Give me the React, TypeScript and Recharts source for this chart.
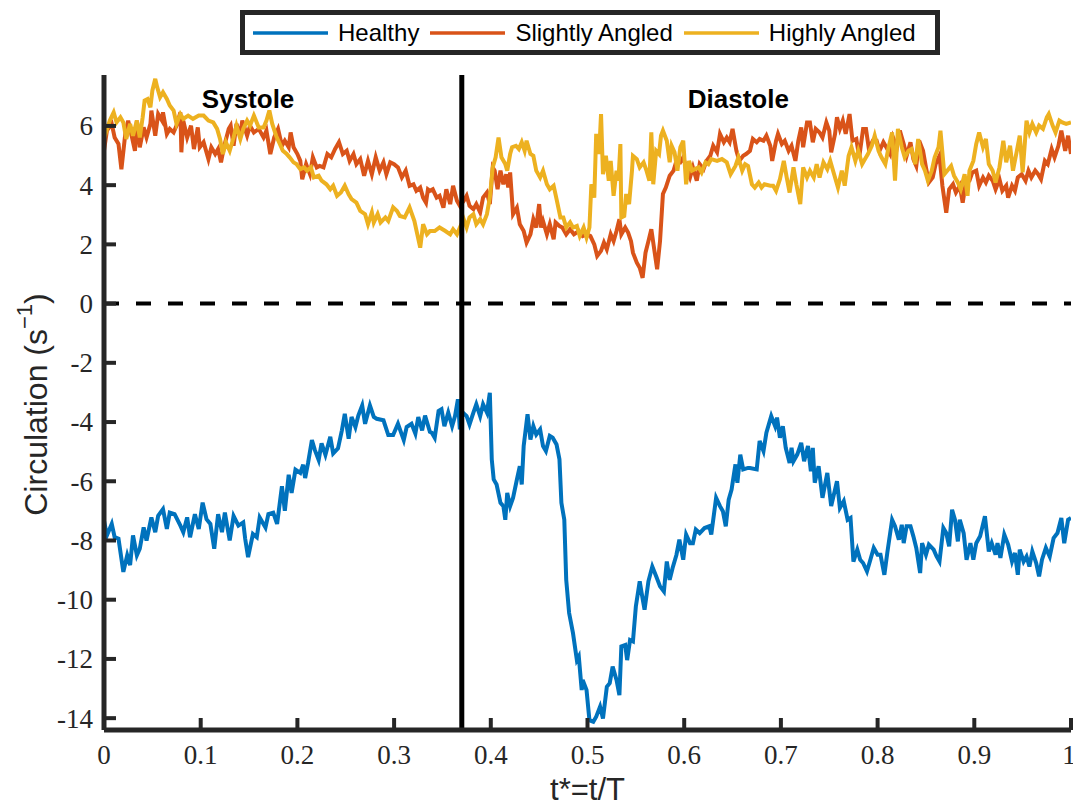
import React from 'react';
import { LineChart, Line, XAxis, YAxis, ReferenceLine, ReferenceDot, Legend } from 'recharts';

// [t*, circulation] samples
const healthy: [number, number][] = [
  [0,-7.33],[0.003,-7.83],[0.008,-7.44],[0.011,-7.89],[0.015,-7.94],[0.020,-9.06],[0.024,-8.50],[0.027,-8.83],[0.030,-7.83],[0.034,-8.50],[0.037,-8.28],[0.041,-7.56],[0.044,-8.00],[0.049,-7.22],[0.053,-7.72],[0.056,-7.17],[0.061,-6.94],[0.065,-7.61],[0.068,-7.06],[0.073,-7.11],[0.079,-7.50],[0.082,-7.72],[0.086,-7.22],[0.089,-7.89],[0.094,-7.11],[0.098,-7.61],[0.102,-6.72],[0.106,-7.28],[0.110,-7.44],[0.114,-8.28],[0.118,-7.11],[0.122,-7.72],[0.125,-7.06],[0.130,-8.00],[0.134,-7.17],[0.139,-7.50],[0.144,-7.39],[0.146,-7.94],[0.149,-8.56],[0.154,-7.78],[0.158,-7.89],[0.161,-7.22],[0.167,-7.56],[0.170,-7.11],[0.175,-7.06],[0.179,-7.44],[0.184,-6.17],[0.187,-7.00],[0.191,-5.78],[0.194,-6.39],[0.198,-5.61],[0.203,-5.72],[0.206,-5.44],[0.208,-5.89],[0.211,-5.39],[0.215,-4.61],[0.218,-4.94],[0.222,-5.28],[0.225,-4.72],[0.229,-5.11],[0.234,-4.50],[0.237,-5.06],[0.242,-4.89],[0.246,-4.28],[0.249,-3.72],[0.253,-4.56],[0.256,-3.83],[0.260,-4.17],[0.263,-3.78],[0.267,-3.44],[0.270,-4.06],[0.275,-3.44],[0.279,-3.83],[0.282,-3.89],[0.289,-3.94],[0.294,-4.44],[0.299,-4.44],[0.304,-4.06],[0.310,-4.61],[0.313,-4.17],[0.318,-4.06],[0.322,-4.39],[0.325,-3.83],[0.329,-4.28],[0.332,-3.78],[0.337,-4.33],
  [0.339,-4.36],[0.342,-4.53],[0.346,-3.63],[0.349,-3.57],[0.352,-4.14],[0.356,-3.68],[0.360,-4.14],[0.363,-3.80],[0.366,-3.23],[0.368,-4.25],[0.371,-3.68],[0.375,-3.80],[0.378,-4.08],[0.382,-3.68],[0.385,-3.40],[0.389,-3.80],[0.392,-3.40],[0.396,-3.68],[0.399,-3.01],[0.401,-5.26],[0.403,-5.94],[0.406,-6.11],[0.410,-6.73],[0.413,-6.84],[0.415,-7.30],[0.417,-6.39],[0.420,-6.84],[0.423,-6.56],[0.427,-5.94],[0.430,-5.49],[0.432,-6.11],[0.434,-4.81],[0.438,-3.74],[0.441,-4.59],[0.444,-4.14],[0.447,-4.42],[0.451,-4.25],[0.454,-4.81],[0.457,-4.98],[0.461,-4.47],[0.464,-4.53],[0.468,-4.76],[0.471,-5.26],[0.473,-6.73],[0.476,-7.30],[0.478,-9.33],[0.481,-10.45],[0.485,-11.13],[0.489,-12.04],[0.491,-11.92],[0.494,-13.05],[0.495,-12.71],[0.499,-13.05],[0.502,-14.07],[0.506,-14.12],[0.509,-13.95],[0.513,-13.61],[0.516,-14.01],[0.520,-12.94],[0.523,-12.82],[0.526,-12.26],[0.530,-12.71],[0.533,-13.22],[0.535,-11.58],[0.539,-11.53],[0.541,-12.04],[0.544,-11.36],[0.547,-11.41],[0.550,-10.23],[0.554,-9.38],[0.556,-9.78],[0.559,-10.34],[0.563,-9.38],[0.567,-8.88],[0.571,-9.21],[0.575,-9.55],[0.579,-9.72],[0.582,-8.71],[0.585,-9.33],[0.588,-8.93],[0.592,-8.48],[0.595,-7.97],[0.599,-8.65],[0.602,-7.80],[0.606,-8.09],[0.609,-8.09],[0.612,-7.63],[0.616,-7.75],[0.621,-7.58],[0.626,-7.52],[0.628,-7.80],[0.633,-6.56],[0.637,-6.84],[0.640,-7.01],[0.643,-7.52],[0.646,-6.62],[0.649,-6.28],[0.653,-5.43],[0.655,-6.05],[0.658,-5.10],
  [0.661,-5.60],[0.666,-5.55],[0.668,-5.55],[0.675,-5.60],[0.678,-4.64],[0.682,-4.98],[0.685,-4.36],[0.690,-3.80],[0.694,-4.14],[0.696,-3.85],[0.699,-4.53],[0.702,-4.14],[0.705,-4.87],[0.709,-5.38],[0.711,-4.87],[0.713,-5.32],[0.717,-5.09],[0.721,-4.70],[0.724,-5.32],[0.728,-4.81],[0.731,-5.66],[0.733,-4.87],[0.735,-6.05],[0.739,-5.49],[0.743,-6.56],[0.748,-5.72],[0.752,-6.84],[0.758,-6.00],[0.761,-6.90],[0.765,-6.67],[0.769,-7.30],[0.772,-7.24],[0.775,-8.71],[0.779,-8.31],[0.782,-8.65],[0.785,-8.76],[0.789,-9.04],[0.792,-8.71],[0.796,-8.25],[0.800,-8.48],[0.803,-8.48],[0.807,-9.16],[0.810,-8.42],[0.815,-7.30],[0.818,-7.52],[0.822,-7.97],[0.825,-7.47],[0.827,-8.09],[0.830,-7.52],[0.834,-7.52],[0.837,-7.86],[0.840,-8.25],[0.844,-9.10],[0.846,-8.09],[0.850,-8.48],[0.853,-8.14],[0.858,-8.31],[0.861,-8.54],[0.864,-8.71],[0.868,-7.58],[0.871,-7.75],[0.874,-8.20],[0.877,-6.96],[0.880,-7.30],[0.883,-8.03],[0.885,-7.30],[0.889,-7.75],[0.892,-8.65],[0.896,-8.09],[0.899,-8.65],[0.902,-8.09],[0.906,-7.86],[0.911,-7.18],[0.915,-8.37],[0.918,-8.09],[0.922,-8.48],[0.924,-8.09],[0.927,-8.59],[0.931,-7.80],[0.935,-8.14],[0.939,-8.71],[0.942,-8.42],[0.945,-9.16],[0.947,-8.31],[0.951,-8.71],[0.954,-8.54],[0.957,-8.88],[0.960,-8.37],[0.964,-8.76],[0.967,-9.21],[0.970,-8.65],[0.974,-8.25],[0.978,-8.54],[0.982,-7.92],[0.986,-7.75],[0.990,-7.24],[0.993,-8.09],[0.997,-7.30],[1.000,-7.24],
];

const slightlyAngled: [number, number][] = [
  [0,5.16],[0.003,5.84],[0.008,6.07],[0.011,5.61],[0.015,5.39],[0.018,4.54],[0.022,5.73],[0.025,6.18],[0.029,5.61],[0.032,5.16],[0.034,6.18],[0.037,5.28],[0.041,5.95],[0.044,5.61],[0.048,6.07],[0.049,6.52],[0.053,5.67],[0.056,6.40],[0.060,6.18],[0.061,6.46],[0.065,5.73],[0.068,5.90],[0.072,5.78],[0.075,6.01],[0.079,6.46],[0.080,5.11],[0.082,6.18],[0.086,5.61],[0.090,6.01],[0.093,5.22],[0.097,5.95],[0.099,5.28],[0.103,5.45],[0.108,4.88],[0.111,5.28],[0.115,5.05],[0.118,5.22],[0.121,4.77],[0.124,5.28],[0.129,5.90],[0.131,6.01],[0.134,5.33],[0.137,6.07],[0.141,5.67],[0.143,6.18],[0.148,5.67],[0.151,6.01],[0.155,5.78],[0.160,5.90],[0.165,5.61],[0.168,5.84],[0.172,5.05],[0.176,5.61],[0.180,5.90],[0.184,5.33],[0.187,5.50],[0.191,5.28],[0.193,5.78],[0.196,5.28],[0.200,5.05],[0.203,4.82],[0.205,4.20],[0.209,4.71],[0.213,4.37],[0.216,4.94],[0.220,4.60],[0.223,4.65],[0.227,4.60],[0.231,5.05],[0.235,4.94],[0.239,5.22],[0.243,5.45],[0.247,5.05],[0.251,5.16],[0.254,4.82],[0.258,5.05],[0.261,4.71],[0.265,4.88],[0.269,4.32],[0.273,4.82],[0.277,4.37],[0.281,4.94],[0.285,4.49],[0.289,4.77],[0.292,4.37],[0.296,4.77],[0.300,4.71],[0.304,4.60],[0.308,4.26],[0.312,4.49],[0.316,3.98],[0.320,4.03],[0.323,3.81],[0.327,3.92],[0.330,3.58],[0.333,3.41],[0.335,3.86],[0.337,3.81],
  [0.340,3.86],[0.344,3.58],[0.347,3.64],[0.351,3.24],[0.354,3.86],[0.358,3.36],[0.361,3.98],[0.365,3.47],[0.368,3.30],[0.372,3.47],[0.375,3.64],[0.378,3.30],[0.382,3.19],[0.385,3.36],[0.389,3.08],[0.392,3.58],[0.396,3.75],[0.399,3.36],[0.402,4.60],[0.404,4.49],[0.407,3.86],[0.410,4.49],[0.413,4.03],[0.416,4.37],[0.418,3.92],[0.420,4.43],[0.423,3.02],[0.427,3.24],[0.430,2.68],[0.434,2.45],[0.437,2.06],[0.441,2.34],[0.444,2.85],[0.447,2.57],[0.450,3.36],[0.452,2.57],[0.454,2.79],[0.458,2.34],[0.461,2.68],[0.465,2.17],[0.467,2.74],[0.471,2.62],[0.474,2.57],[0.478,2.34],[0.482,2.51],[0.486,2.34],[0.491,2.45],[0.495,2.28],[0.499,2.34],[0.503,2.28],[0.507,2.00],[0.510,1.61],[0.514,1.78],[0.517,2.06],[0.520,1.83],[0.524,2.34],[0.527,2.11],[0.530,2.45],[0.533,2.85],[0.535,2.34],[0.539,2.57],[0.542,2.40],[0.545,2.11],[0.547,1.72],[0.551,1.38],[0.554,1.21],[0.557,0.87],[0.560,1.72],[0.563,2.11],[0.566,2.51],[0.570,1.61],[0.572,1.16],[0.575,2.11],[0.578,3.70],[0.581,3.92],[0.585,4.32],[0.589,4.49],[0.592,4.82],[0.596,4.77],[0.599,4.94],[0.602,4.60],[0.606,4.26],[0.609,4.60],[0.613,4.15],[0.616,4.71],[0.620,4.54],[0.623,4.82],[0.627,4.99],[0.630,5.33],[0.634,5.11],[0.637,5.73],[0.641,5.45],[0.644,5.61],[0.647,5.45],[0.650,5.90],[0.654,5.16],[0.657,4.82],
  [0.661,4.99],[0.664,5.05],[0.668,5.16],[0.671,5.56],[0.675,5.45],[0.678,5.56],[0.682,5.50],[0.685,5.67],[0.689,5.33],[0.691,4.82],[0.695,5.50],[0.697,5.73],[0.701,5.39],[0.704,5.50],[0.708,5.16],[0.711,5.33],[0.715,4.82],[0.718,5.50],[0.721,5.95],[0.723,5.28],[0.727,6.12],[0.730,6.12],[0.733,5.45],[0.736,5.90],[0.740,5.78],[0.743,5.61],[0.747,6.12],[0.750,5.84],[0.752,5.11],[0.756,5.73],[0.758,6.29],[0.761,5.90],[0.764,6.18],[0.767,5.73],[0.771,6.40],[0.774,5.50],[0.778,5.56],[0.781,4.94],[0.785,5.90],[0.788,5.90],[0.791,5.22],[0.795,5.50],[0.799,5.50],[0.802,5.16],[0.806,5.45],[0.809,5.28],[0.813,5.05],[0.816,5.61],[0.820,5.28],[0.823,5.84],[0.827,5.39],[0.830,4.99],[0.834,5.45],[0.837,4.88],[0.840,4.65],[0.843,5.50],[0.847,5.16],[0.850,4.60],[0.853,4.09],[0.857,4.26],[0.860,4.71],[0.864,4.99],[0.867,3.98],[0.871,3.07],[0.874,3.86],[0.878,4.03],[0.881,3.75],[0.885,3.98],[0.888,3.41],[0.891,4.03],[0.895,4.15],[0.898,4.43],[0.902,4.49],[0.905,3.98],[0.909,4.26],[0.912,4.09],[0.915,4.32],[0.919,4.15],[0.922,3.86],[0.926,4.20],[0.929,3.81],[0.933,3.98],[0.935,3.58],[0.939,3.98],[0.942,3.81],[0.945,4.26],[0.949,4.37],[0.953,4.15],[0.956,4.49],[0.959,4.26],[0.963,4.49],[0.966,4.37],[0.969,4.20],[0.973,4.82],[0.976,4.71],[0.980,5.22],[0.983,4.94],[0.987,5.33],[0.990,5.84],[0.994,5.16],[0.997,5.67],[1.000,5.05],
];

const highlyAngled: [number, number][] = [
  [0,6.07],[0.002,5.78],[0.006,6.18],[0.010,6.46],[0.013,6.12],[0.017,6.29],[0.020,6.12],[0.023,5.56],[0.027,6.07],[0.030,5.67],[0.034,6.18],[0.037,5.61],[0.040,6.29],[0.042,6.86],[0.045,6.91],[0.048,6.63],[0.050,7.19],[0.053,7.59],[0.055,7.31],[0.058,6.97],[0.061,7.14],[0.065,6.91],[0.068,6.69],[0.072,6.52],[0.075,6.07],[0.079,6.40],[0.082,6.24],[0.087,6.35],[0.092,6.24],[0.098,6.35],[0.103,6.35],[0.108,6.18],[0.113,6.12],[0.117,5.90],[0.120,5.56],[0.123,5.05],[0.126,5.45],[0.130,5.16],[0.134,5.61],[0.137,6.01],[0.141,5.56],[0.144,5.90],[0.148,6.18],[0.151,6.01],[0.155,6.35],[0.160,5.95],[0.165,5.95],[0.168,6.18],[0.171,6.52],[0.174,6.07],[0.178,5.67],[0.181,5.45],[0.185,5.16],[0.189,5.05],[0.192,4.94],[0.196,4.77],[0.199,4.71],[0.203,4.54],[0.207,4.60],[0.210,4.49],[0.214,4.60],[0.217,4.26],[0.222,4.32],[0.225,4.15],[0.230,4.03],[0.234,3.86],[0.237,3.98],[0.241,3.64],[0.245,3.75],[0.249,3.98],[0.253,3.69],[0.256,3.53],[0.261,3.41],[0.265,3.13],[0.270,3.02],[0.273,2.68],[0.277,3.08],[0.279,2.74],[0.283,3.02],[0.286,2.74],[0.291,2.91],[0.294,2.79],[0.299,3.25],[0.303,3.13],[0.306,2.96],[0.311,2.91],[0.316,3.25],[0.321,2.79],[0.324,2.34],[0.327,1.89],[0.330,2.68],[0.334,2.34],[0.337,2.45],
  [0.342,2.45],[0.347,2.57],[0.353,2.45],[0.358,2.34],[0.361,2.51],[0.365,2.34],[0.368,2.57],[0.372,2.85],[0.375,2.57],[0.378,2.91],[0.382,3.02],[0.385,2.68],[0.389,2.85],[0.392,2.68],[0.396,3.02],[0.399,3.58],[0.402,4.60],[0.405,4.94],[0.408,5.61],[0.411,4.94],[0.415,4.71],[0.417,4.49],[0.420,5.05],[0.422,5.28],[0.426,5.33],[0.429,5.22],[0.432,5.45],[0.435,5.16],[0.437,5.50],[0.441,5.05],[0.444,4.99],[0.447,4.49],[0.451,4.26],[0.454,4.49],[0.458,4.03],[0.461,3.86],[0.465,3.98],[0.468,3.53],[0.472,2.91],[0.475,2.91],[0.478,2.57],[0.482,2.74],[0.485,2.57],[0.489,2.62],[0.492,2.28],[0.496,2.57],[0.499,2.23],[0.502,2.57],[0.504,4.03],[0.507,3.58],[0.509,5.73],[0.512,5.05],[0.514,6.40],[0.516,4.37],[0.519,4.99],[0.522,4.15],[0.524,4.82],[0.527,3.64],[0.530,4.49],[0.532,4.15],[0.534,5.39],[0.535,2.91],[0.538,2.96],[0.540,3.70],[0.543,3.36],[0.546,4.49],[0.547,4.99],[0.551,4.88],[0.554,4.60],[0.558,4.77],[0.561,4.49],[0.564,4.15],[0.566,5.78],[0.568,4.03],[0.571,5.16],[0.574,5.05],[0.576,5.67],[0.578,5.84],[0.582,5.50],[0.585,4.77],[0.587,5.33],[0.590,5.11],[0.593,4.49],[0.596,5.28],[0.599,5.50],[0.602,4.03],[0.605,4.82],[0.608,4.49],[0.611,4.54],[0.615,4.60],[0.618,4.43],[0.622,4.77],[0.625,4.71],[0.628,4.88],[0.634,4.82],[0.639,4.88],[0.644,4.77],[0.648,4.37],[0.653,4.65],[0.656,4.94],
  [0.660,4.49],[0.663,4.71],[0.666,4.65],[0.670,4.03],[0.673,3.92],[0.677,4.09],[0.680,3.92],[0.683,4.03],[0.689,3.98],[0.692,3.98],[0.695,3.81],[0.699,4.20],[0.703,4.82],[0.706,4.26],[0.709,3.75],[0.713,4.60],[0.716,4.03],[0.720,3.36],[0.723,4.60],[0.727,4.26],[0.730,4.49],[0.734,4.26],[0.737,4.71],[0.740,4.26],[0.744,4.77],[0.748,4.54],[0.751,4.82],[0.755,4.37],[0.759,3.92],[0.763,4.49],[0.766,3.98],[0.770,4.99],[0.773,5.28],[0.777,4.82],[0.780,5.16],[0.784,4.71],[0.787,4.88],[0.790,5.05],[0.794,5.33],[0.797,5.67],[0.801,5.16],[0.804,4.94],[0.808,4.71],[0.811,5.22],[0.815,5.78],[0.818,4.15],[0.821,5.90],[0.825,5.28],[0.828,4.94],[0.832,5.16],[0.835,5.22],[0.839,4.71],[0.842,5.56],[0.846,4.71],[0.849,4.49],[0.852,4.15],[0.856,4.49],[0.859,4.94],[0.863,5.28],[0.865,5.84],[0.869,4.37],[0.872,4.49],[0.876,4.65],[0.879,4.32],[0.883,4.09],[0.886,3.86],[0.890,4.37],[0.893,3.64],[0.895,4.49],[0.899,4.82],[0.902,5.39],[0.905,5.78],[0.909,5.28],[0.912,5.56],[0.915,4.71],[0.919,4.49],[0.922,4.09],[0.926,4.60],[0.930,5.50],[0.933,4.77],[0.937,5.33],[0.940,4.49],[0.944,5.16],[0.947,5.67],[0.950,4.43],[0.954,6.18],[0.957,5.78],[0.960,6.07],[0.964,5.78],[0.967,6.01],[0.971,5.90],[0.975,6.29],[0.977,6.40],[0.981,6.01],[0.984,5.78],[0.988,6.18],[0.991,6.12],[0.995,6.07],[1.000,6.12],
];

const seriesNames = ['Healthy', 'Slightly Angled', 'Highly Angled'];
const seriesColors = ['#0072BD', '#D95319', '#EDB120'];
const xTicks = [0, 0.1, 0.2, 0.3, 0.4, 0.5, 0.6, 0.7, 0.8, 0.9, 1];
const yTicks = [-14, -12, -10, -8, -6, -4, -2, 0, 2, 4, 6];
const xDomain: [number, number] = [0, 1];
const yDomain: [number, number] = [-14.4, 7.72];
const phaseBoundary = 0.37;
const phaseLabels = [
  { text: 'Systole', t: 0.149, v: 6.92 },
  { text: 'Diastole', t: 0.656, v: 6.92 },
];

const toRows = (pts: [number, number][]) => pts.map(([t, v]) => ({ t, v }));
const seriesData = [healthy, slightlyAngled, highlyAngled].map(toRows);

const AXIS = '#262626';
const SANS = '"Liberation Sans", Arial, Helvetica, sans-serif';
const SERIF = '"Liberation Serif", "Times New Roman", serif';
const TICK_FONT = 27;

const XTick = (props: any) => {
  const { x, y, payload } = props;
  return (
    <text x={x} y={y} dy="0.71em" textAnchor="middle" fontFamily={SERIF} fontSize={TICK_FONT} fill={AXIS}>
      {String(payload.value)}
    </text>
  );
};

const YTick = (props: any) => {
  const { x, y, payload } = props;
  return (
    <text x={x} y={y} dy="0.35em" textAnchor="end" fontFamily={SERIF} fontSize={TICK_FONT} fill={AXIS}>
      {String(payload.value)}
    </text>
  );
};

const LegendBox = (props: any) => {
  const payload = [...(props.payload || [])].sort(
    (a: any, b: any) => seriesNames.indexOf(a.value) - seriesNames.indexOf(b.value)
  );
  return (
    <div
      style={{
        border: `5px solid ${AXIS}`,
        background: '#fff',
        boxSizing: 'border-box',
        width: 700,
        height: 45,
        display: 'flex',
        alignItems: 'center',
        paddingLeft: 8,
        fontFamily: SANS,
        fontSize: 24,
        color: '#000',
        whiteSpace: 'nowrap',
      }}
    >
      {payload.map((p: any) => (
        <div key={p.value} style={{ display: 'flex', alignItems: 'center', marginRight: 11 }}>
          <svg width={75} height={10} style={{ display: 'block' }}>
            <line x1={0} y1={5} x2={75} y2={5} stroke={p.color} strokeWidth={3.5} />
          </svg>
          <span style={{ marginLeft: 10 }}>{p.value}</span>
        </div>
      ))}
    </div>
  );
};

const YTitle = (props: any) => {
  const vb = props.viewBox || {};
  const cx = (vb.x ?? 0) + 36;
  const cy = (vb.y ?? 0) + vb.height / 2 + 2;
  return (
    <text
      x={cx}
      y={cy}
      transform={`rotate(-90 ${cx} ${cy})`}
      textAnchor="middle"
      dominantBaseline="central"
      fontFamily={SANS}
      fontSize={32}
      fill={AXIS}
    >
      Circulation (s
      <tspan dy={-12} fontSize={22}>−1</tspan>
      <tspan dy={12}>)</tspan>
    </text>
  );
};

const XTitle = (props: any) => {
  const vb = props.viewBox || {};
  const cx = (vb.x ?? 0) + vb.width / 2;
  const cy = (vb.y ?? 0) + 59;
  return (
    <text x={cx} y={cy} textAnchor="middle" dominantBaseline="central" fontFamily={SANS} fontSize={31} fill={AXIS}>
      t*=t/T
    </text>
  );
};

export default function App() {
  return (
    <div style={{ position: 'absolute', left: 0, top: 0, width: 1073, height: 808, overflow: 'hidden', background: '#fff' }}>
      <LineChart width={1073} height={808} margin={{ top: 75, right: 2, bottom: 8, left: 0 }}>
        <XAxis
          dataKey="t"
          type="number"
          domain={xDomain}
          ticks={xTicks}
          allowDataOverflow
          height={70}
          tickSize={-12}
          tickMargin={27}
          tick={<XTick />}
          axisLine={{ stroke: AXIS, strokeWidth: 5 }}
          tickLine={{ stroke: AXIS, strokeWidth: 4 }}
          label={<XTitle />}
        />
        <XAxis
          xAxisId="top"
          orientation="top"
          type="number"
          domain={xDomain}
          ticks={xTicks}
          allowDataOverflow
          height={0}
          tickSize={-12}
          tickFormatter={() => ''}
          axisLine={{ stroke: AXIS, strokeWidth: 5 }}
          tickLine={{ stroke: AXIS, strokeWidth: 4 }}
        />
        <YAxis
          type="number"
          domain={yDomain}
          ticks={yTicks}
          allowDataOverflow
          width={104}
          tickSize={-12}
          tickMargin={23}
          tick={<YTick />}
          axisLine={{ stroke: AXIS, strokeWidth: 5 }}
          tickLine={{ stroke: AXIS, strokeWidth: 4 }}
          label={<YTitle />}
        />
        <YAxis
          yAxisId="right"
          orientation="right"
          type="number"
          domain={yDomain}
          ticks={yTicks}
          allowDataOverflow
          width={0}
          tickSize={-12}
          tickFormatter={() => ''}
          axisLine={{ stroke: AXIS, strokeWidth: 5 }}
          tickLine={{ stroke: AXIS, strokeWidth: 4 }}
        />
        <ReferenceLine y={0} stroke="#000" strokeWidth={4} strokeDasharray="15 17" />
        {seriesData.map((d, i) => (
          <Line
            key={seriesNames[i]}
            data={d}
            dataKey="v"
            name={seriesNames[i]}
            type="linear"
            stroke={seriesColors[i]}
            strokeWidth={4}
            dot={false}
            activeDot={false}
            isAnimationActive={false}
          />
        ))}
        <ReferenceLine x={phaseBoundary} stroke="#000" strokeWidth={5} />
        {phaseLabels.map((p) => (
          <ReferenceDot
            key={p.text}
            x={p.t}
            y={p.v}
            r={0}
            fill="none"
            stroke="none"
            label={{ value: p.text, position: 'center', fill: '#000', fontSize: 26, fontWeight: 'bold', fontFamily: SANS }}
          />
        ))}
        <Legend
          layout="vertical"
          align="center"
          verticalAlign="middle"
          wrapperStyle={{ top: 10, left: 240, width: 700 }}
          content={<LegendBox />}
        />
      </LineChart>
    </div>
  );
}
